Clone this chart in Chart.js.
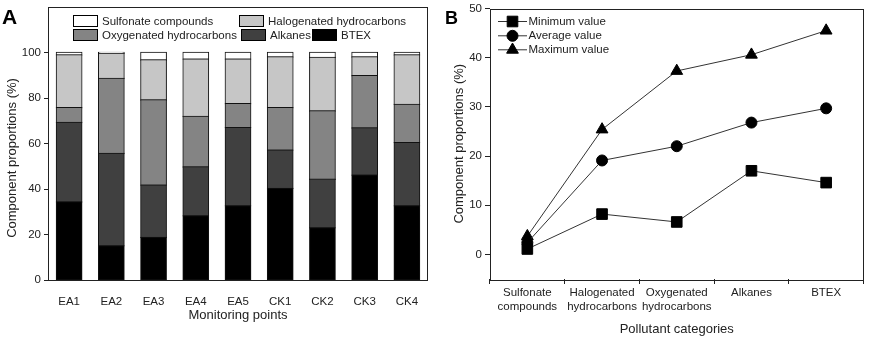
<!DOCTYPE html>
<html>
<head>
<meta charset="utf-8">
<script src="https://cdn.jsdelivr.net/npm/chart.js@4.4.1/dist/chart.umd.min.js"></script>
<style>
  html, body { margin: 0; padding: 0; background: #fff; }
  #wrap { position: relative; width: 872px; height: 339px; }
  .box { position: absolute; top: 0; width: 436px; height: 339px; }
  #boxA { left: 0; }
  #boxB { left: 436px; }
</style>
</head>
<body>
<div id="wrap">
  <div class="box" id="boxA"><canvas id="chartA"></canvas></div>
  <div class="box" id="boxB"><canvas id="chartB"></canvas></div>
</div>
<script>
// Panel A - composition per monitoring point (%)
const points = ['EA1', 'EA2', 'EA3', 'EA4', 'EA5', 'CK1', 'CK2', 'CK3', 'CK4'];
const btex        = [34.3, 15.0, 18.7, 28.2, 32.6, 40.2, 22.9, 46.1, 32.6];
const alkanes     = [34.9, 40.6, 23.0, 21.5, 34.4, 16.9, 21.4, 20.7, 27.8];
const oxygenated  = [6.5, 33.0, 37.4, 22.2, 10.5, 18.6, 30.0, 23.0, 16.8];
const halogenated = [23.2, 11.0, 17.6, 25.2, 19.6, 22.3, 23.5, 8.2, 21.7];
const sulfonate   = [1.1, 0.4, 3.3, 2.9, 2.9, 2.0, 2.2, 2.0, 1.1];
const yTicksA = [0, 20, 40, 60, 80, 100];

// Panel B - min / average / max per pollutant category (%)
const categories = [['Sulfonate', 'compounds'], ['Halogenated', 'hydrocarbons'],
                    ['Oxygenated', 'hydrocarbons'], 'Alkanes', 'BTEX'];
const minValues = [1.1, 8.2, 6.6, 17.0, 14.6];
const avgValues = [2.4, 19.1, 22.0, 26.8, 29.7];
const maxValues = [3.7, 25.4, 37.3, 40.6, 45.5];
const yTicksB = [0, 10, 20, 30, 40, 50];

const FONT = "'Liberation Sans', Arial, Helvetica, sans-serif";
const INK = '#222';
Chart.defaults.font.family = FONT;
Chart.defaults.font.size = 12;
Chart.defaults.color = INK;
Chart.defaults.animation = false;

// box round the plot area
const frame = {
  id: 'frame',
  afterDraw(chart) {
    const { ctx, chartArea: a } = chart;
    ctx.save();
    ctx.strokeStyle = INK;
    ctx.lineWidth = 1;
    ctx.strokeRect(Math.round(a.left) + 0.5, Math.round(a.top) + 0.5,
                   Math.round(a.right - a.left) - 1, Math.round(a.bottom - a.top));
    ctx.restore();
  }
};

// panel letter, drawn at its baseline
function panelLetter(text, x, size) {
  return {
    id: 'letter' + text,
    afterDraw(chart) {
      const ctx = chart.ctx;
      ctx.save();
      ctx.fillStyle = '#000';
      ctx.font = 'bold ' + size + 'px ' + FONT;
      ctx.textBaseline = 'alphabetic';
      ctx.fillText(text, x, 23.5);
      ctx.restore();
    }
  };
}

// legend of panel A: two rows inside the frame
const legendA = {
  id: 'legendA',
  afterDraw(chart) {
    const { ctx, chartArea: a } = chart;
    const rows = [
      { dy: 14, items: [[4, 25], [3, 191]] },
      { dy: 28, items: [[2, 25], [1, 193], [0, 264]] }
    ];
    ctx.save();
    ctx.font = '11.5px ' + FONT;
    ctx.textBaseline = 'middle';
    rows.forEach(row => {
      const y = a.top + row.dy;
      row.items.forEach(([i, dx]) => {
        const ds = chart.data.datasets[i];
        const x = a.left + dx;
        ctx.fillStyle = ds.backgroundColor;
        ctx.fillRect(x, Math.round(y - 6), 25, 12);
        ctx.strokeStyle = '#000';
        ctx.lineWidth = 1;
        ctx.strokeRect(x + 0.5, Math.round(y - 6) + 0.5, 24, 11);
        ctx.fillStyle = INK;
        ctx.fillText(ds.label, x + 29, y + 0.5);
      });
    });
    ctx.restore();
  }
};

// left title of panel A sits a bit below the plot centre
const yTitleA = {
  id: 'yTitleA',
  afterDraw(chart) {
    const ctx = chart.ctx;
    ctx.save();
    ctx.translate(12.5, 158);
    ctx.rotate(-Math.PI / 2);
    ctx.font = '13px ' + FONT;
    ctx.fillStyle = INK;
    ctx.textAlign = 'center';
    ctx.textBaseline = 'middle';
    ctx.fillText('Component proportions (%)', 0, 0);
    ctx.restore();
  }
};

// legend of panel B: line + marker + label
const legendB = {
  id: 'legendB',
  afterDraw(chart) {
    const { ctx, chartArea: a } = chart;
    const rowsY = [13, 27.3, 41.3];
    ctx.save();
    ctx.font = '11.5px ' + FONT;
    ctx.textBaseline = 'middle';
    chart.data.datasets.forEach((ds, i) => {
      const y = a.top + rowsY[i];
      ctx.strokeStyle = ds.borderColor;
      ctx.lineWidth = 1;
      ctx.beginPath();
      ctx.moveTo(a.left + 8, y);
      ctx.lineTo(a.left + 37, y);
      ctx.stroke();
      ctx.fillStyle = '#000';
      ctx.strokeStyle = '#000';
      Chart.helpers.drawPoint(ctx, {
        pointStyle: ds.pointStyle, radius: ds.pointRadius, rotation: 0, borderWidth: 1
      }, a.left + 22.5, y);
      ctx.fillStyle = INK;
      ctx.fillText(ds.label, a.left + 38.5, y + 0.5);
    });
    ctx.restore();
  }
};

function noScalePadding(s) {
  s.paddingTop = 0; s.paddingBottom = 0; s.paddingLeft = 0; s.paddingRight = 0;
}

// Panel A - stacked bars
new Chart(document.getElementById('chartA'), {
  type: 'bar',
  data: {
    labels: points,
    datasets: [
      { label: 'BTEX', data: btex, backgroundColor: '#000000' },
      { label: 'Alkanes', data: alkanes, backgroundColor: '#404040' },
      { label: 'Oxygenated hydrocarbons', data: oxygenated, backgroundColor: '#848484' },
      { label: 'Halogenated hydrocarbons', data: halogenated, backgroundColor: '#c6c6c6' },
      { label: 'Sulfonate compounds', data: sulfonate, backgroundColor: '#ffffff' }
    ].map(d => Object.assign(d, {
      borderColor: '#111', borderWidth: 1, borderSkipped: false, inflateAmount: 0.7,
      categoryPercentage: 0.6, barPercentage: 1
    }))
  },
  options: {
    responsive: true,
    maintainAspectRatio: false,
    layout: { padding: { top: 7, right: 8, left: 0, bottom: 0 } },
    plugins: { legend: { display: false }, tooltip: { enabled: false } },
    scales: {
      x: {
        stacked: true,
        grid: { display: false },
        border: { display: false },
        ticks: { padding: 7, maxRotation: 0, autoSkip: false, font: { size: 11.5 } },
        title: { display: true, text: 'Monitoring points', font: { size: 13 },
                 padding: { top: 0, bottom: 16 } },
        afterFit: s => { s.height = 59; noScalePadding(s); }
      },
      y: {
        stacked: true,
        min: 0,
        max: 120,
        afterBuildTicks: s => { s.ticks = yTicksA.map(v => ({ value: v })); },
        grid: { drawOnChartArea: false, tickLength: 4, color: INK },
        border: { display: false },
        ticks: { padding: 3, font: { size: 11.5 } },
        afterFit: s => { s.width = 48; noScalePadding(s); }
      }
    }
  },
  plugins: [frame, legendA, yTitleA, panelLetter('A', 2, 21)]
});

// Panel B - min / average / max lines
const lineStyle = { borderColor: '#333', borderWidth: 1, backgroundColor: '#000',
                    pointBackgroundColor: '#000', pointBorderColor: '#000',
                    pointBorderWidth: 1, tension: 0, fill: false };
new Chart(document.getElementById('chartB'), {
  type: 'line',
  data: {
    labels: categories,
    datasets: [
      Object.assign({ label: 'Minimum value', data: minValues, pointStyle: 'rect', pointRadius: 7.5 }, lineStyle),
      Object.assign({ label: 'Average value', data: avgValues, pointStyle: 'circle', pointRadius: 5.5 }, lineStyle),
      Object.assign({ label: 'Maximum value', data: maxValues, pointStyle: 'triangle', pointRadius: 6.8 }, lineStyle)
    ]
  },
  options: {
    responsive: true,
    maintainAspectRatio: false,
    layout: { padding: { top: 7, right: 5, left: 0, bottom: 0 } },
    plugins: { legend: { display: false }, tooltip: { enabled: false } },
    scales: {
      x: {
        offset: true,
        grid: { offset: true, drawOnChartArea: false, tickLength: 5, color: INK },
        border: { display: false },
        ticks: { padding: 2, maxRotation: 0, autoSkip: false, font: { size: 11.5 } },
        title: { display: true, text: 'Pollutant categories', font: { size: 13 },
                 padding: { top: 0, bottom: 2 } },
        afterFit: s => { s.height = 60; noScalePadding(s); }
      },
      y: {
        min: -5,
        max: 50,
        afterBuildTicks: s => { s.ticks = yTicksB.map(v => ({ value: v })); },
        grid: { drawOnChartArea: false, tickLength: 5, color: INK },
        border: { display: false },
        ticks: { padding: 3, font: { size: 11.5 } },
        title: { display: true, text: 'Component proportions (%)', font: { size: 13 },
                 padding: { top: 15.5, bottom: 0 } },
        afterFit: s => { s.width = 54; noScalePadding(s); }
      }
    }
  },
  plugins: [frame, legendB, panelLetter('B', 9, 18)]
});
</script>
</body>
</html>
